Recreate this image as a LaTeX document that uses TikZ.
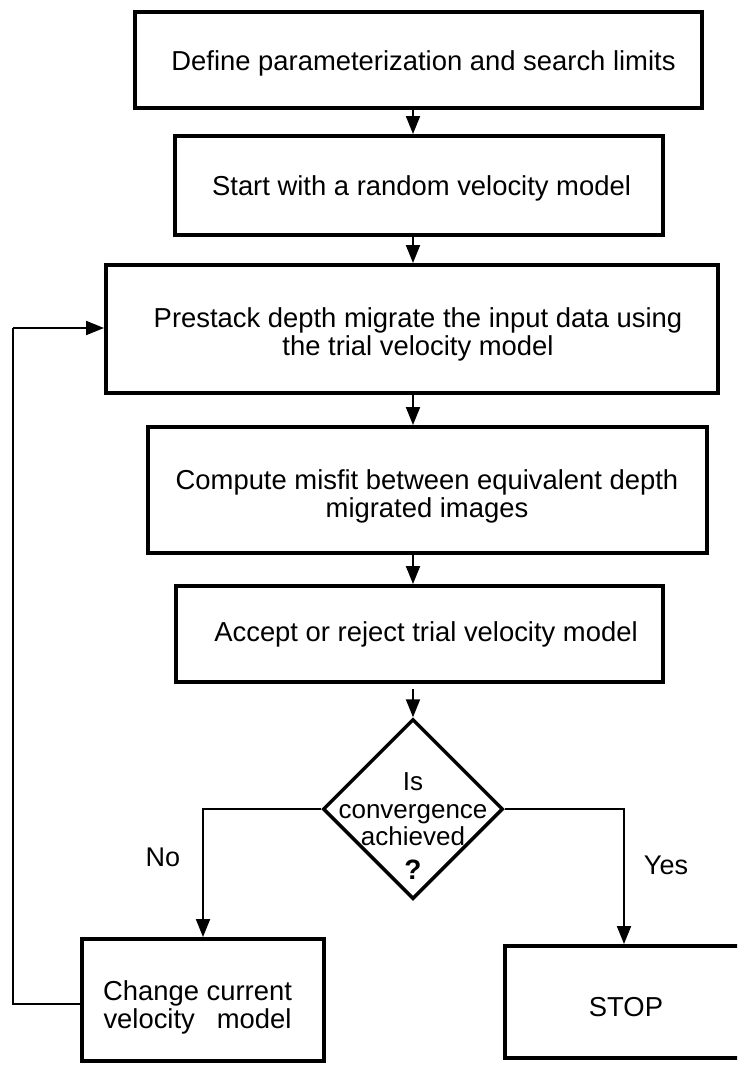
\documentclass[tikz,border=0pt]{standalone}
\usepackage{fontspec}
\setmainfont{Liberation Sans}
\usetikzlibrary{arrows.meta,shapes.geometric,calc}
\begin{document}
\begin{tikzpicture}[x=1pt,y=-1pt,
  box/.style={draw, line width=4pt, inner sep=0pt},
  dia/.style={draw, shape=diamond, line width=3.5pt, inner sep=0pt},
  txt/.style={font=\fontsize{27.4}{28}\selectfont, align=center, inner sep=0pt},
  lbl/.style={font=\fontsize{27}{28}\selectfont, inner sep=0pt},
  arr/.style={line width=2pt, -{Triangle[length=18pt,width=14pt]}},
  link/.style={line width=2pt}]
\useasboundingbox (0,0) rectangle (737,1068);
\clip (0,0) rectangle (737,1068);
% boxes
\node[box, minimum width=567pt, minimum height=96pt] (b1) at (418.5,60) {};
\node[box, minimum width=488pt, minimum height=99pt] (b2) at (419,185.5) {};
\node[box, minimum width=612pt, minimum height=128pt] (b3) at (412,329) {};
\node[box, minimum width=559pt, minimum height=126pt] (b4) at (427.5,490) {};
\node[box, minimum width=487pt, minimum height=96pt] (b5) at (419.5,634) {};
\node[dia, minimum width=180pt, minimum height=180pt] (d) at (413,809) {};
\node[box, minimum width=242pt, minimum height=122pt] (b6) at (203,1000) {};
\node[box, minimum width=260pt, minimum height=112pt] (b7) at (635,1002) {};
% texts
\node[txt] (t1) at (423.5,63) {Define parameterization and search limits};
\node[txt] (t2) at (421.5,188) {Start with a random velocity model};
\node[txt] (t3) at (418,334) {Prestack depth migrate the input data using\\the trial velocity model};
\node[txt] (t4) at (427,496) {Compute misfit between equivalent depth\\migrated images};
\node[txt] (t5) at (426,634) {Accept or reject trial velocity model};
\node[txt, font=\fontsize{26}{27.5}\selectfont] (tq) at (413,826) {Is\\convergence\\achieved\\[6pt]\textbf{\fontsize{28}{28}\selectfont ?}};
\node[txt] (t6) at (197.5,1007) {Change current\\velocity\hspace{0.8em}model};
\node[txt] (t7) at (626,1007) {STOP};
\node[lbl] (no) at (163,857) {No};
\node[lbl] (yes) at (666,865) {Yes};
% coordinates
\coordinate (col) at (413,0);
\coordinate (ycol) at (624,0);
\coordinate (fbb) at (13,1004);
\coordinate (fbt) at (13,328);
% connectors
\draw[arr] (b1.south -| col) -- (b2.north -| col);
\draw[arr] (b2.south -| col) -- (b3.north -| col);
\draw[arr] (b3.south -| col) -- (b4.north -| col);
\draw[arr] (b4.south -| col) -- (b5.north -| col);
\draw[arr, shorten <=5pt] (b5.south -| col) -- (d.north);
\draw[arr] (d.west) -| (b6.north);
\draw[arr] (d.east) -| (b7.north -| ycol);
\draw[link] (b6.west |- fbb) -- (fbb) -- (fbt);
\draw[arr] (fbt) -- (fbt -| b3.west);
\end{tikzpicture}
\end{document}
